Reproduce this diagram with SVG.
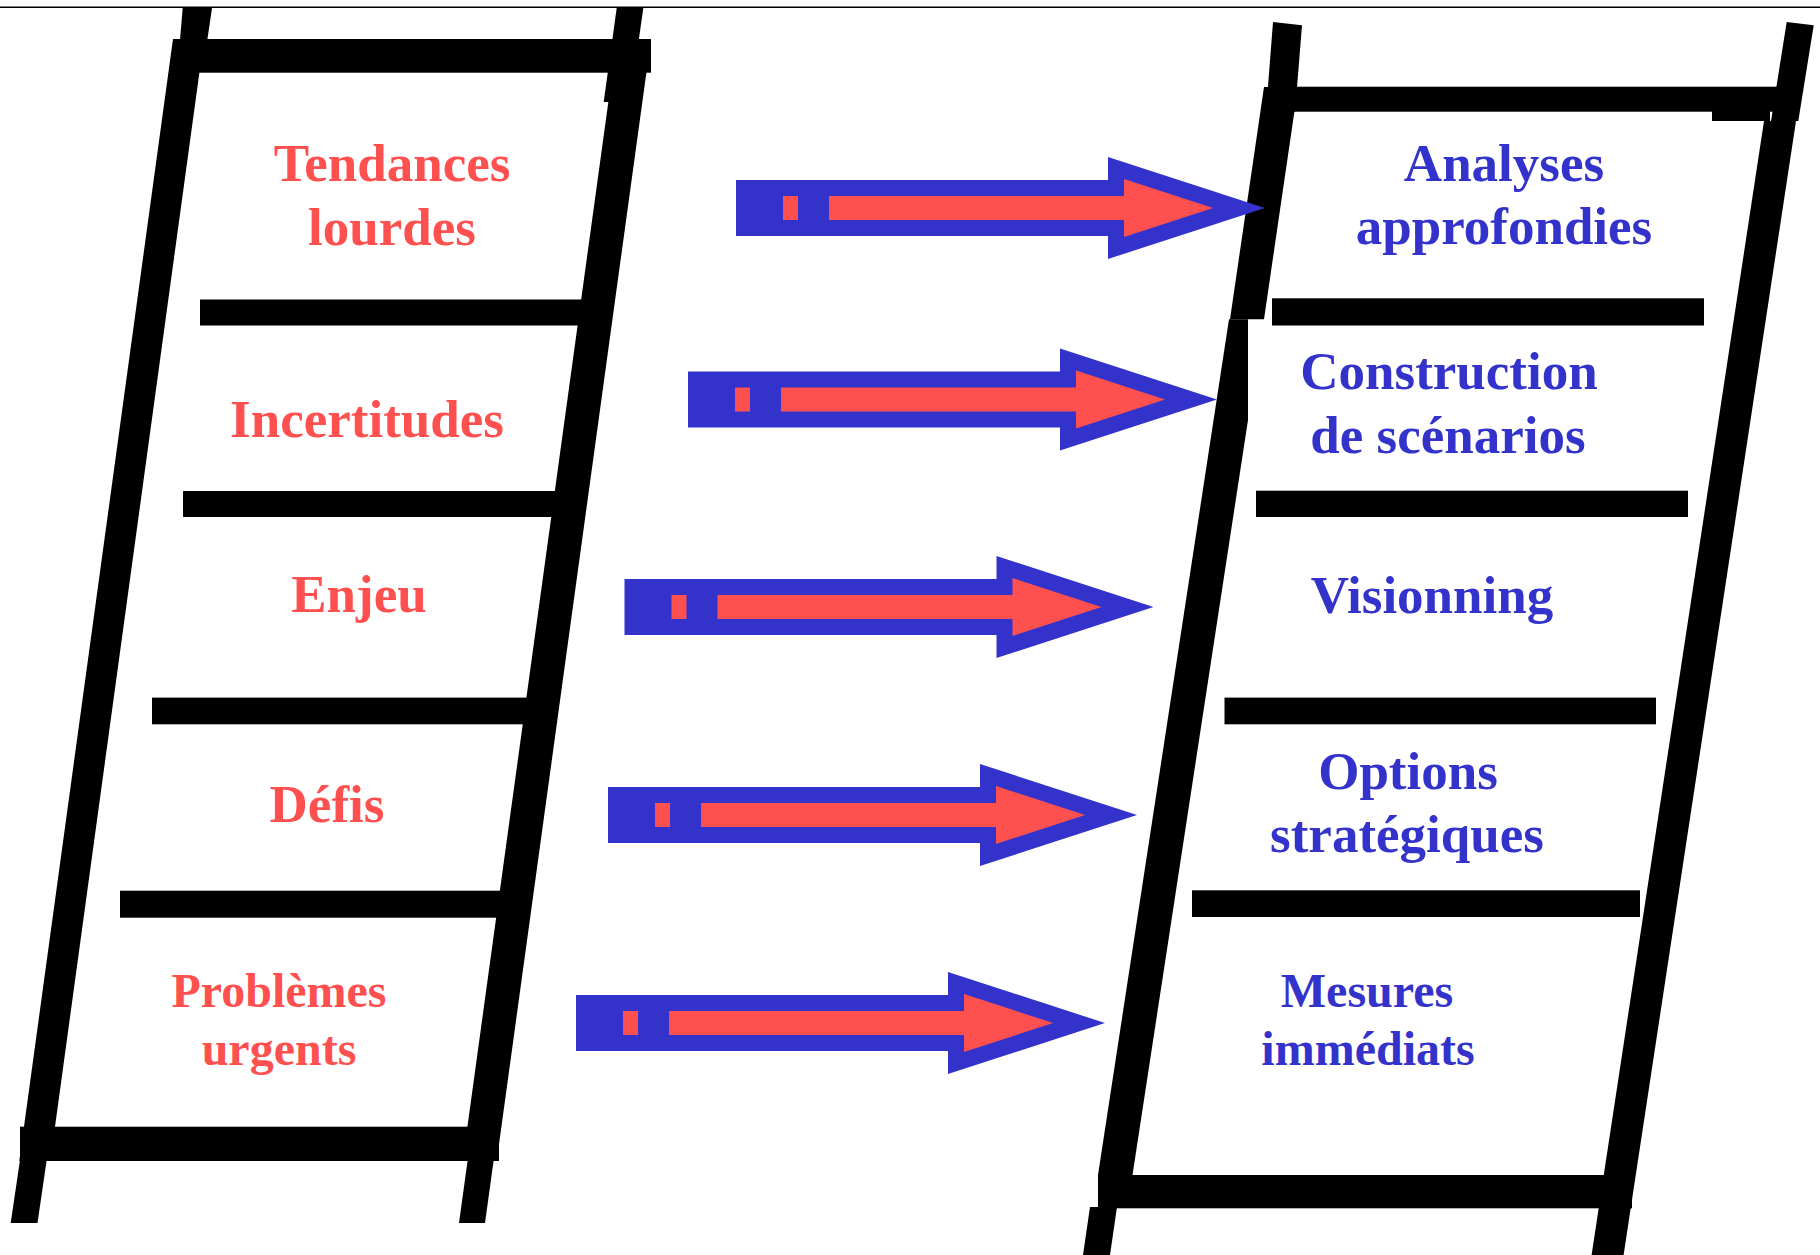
<svg xmlns="http://www.w3.org/2000/svg" xmlns:xlink="http://www.w3.org/1999/xlink" width="1820" height="1255" viewBox="0 0 1820 1255">
<style>
.bk{fill:#000}
.lbl{font-family:"Liberation Serif","Times New Roman",serif;font-weight:bold;text-anchor:middle;font-size:53px}
.sm{font-size:48px}
.red{fill:#FF5050}
.blue{fill:#3333CC}
</style>
<defs>
<g id="arr">
<rect x="0" y="-28" width="373" height="56" fill="#3333CC"/>
<polygon points="372,-51 529,0 372,51" fill="#3333CC"/>
<rect x="47" y="-12" width="15" height="24" fill="#FF5050"/>
<rect x="93" y="-12" width="296" height="24" fill="#FF5050"/>
<polygon points="388,-29 477,0 388,29" fill="#FF5050"/>
</g>
</defs>
<rect width="1820" height="1255" fill="#fff"/>
<line x1="0" y1="7.2" x2="1820" y2="7.2" stroke="#000" stroke-width="1.6"/>
<g id="ladder-left" class="bk">
<polygon points="182.7,8 212,8 207.3,40 180,40"/>
<polygon points="173,39 204,39 50.3,1161 19.3,1161"/>
<polygon points="20,1160 46.7,1160 37.5,1223 10.7,1223"/>
<polygon points="616.7,8 643.3,8 630,102 603.7,102"/>
<polygon points="617,39 651,39 496.7,1161 462.7,1161"/>
<polygon points="467.7,1160 493.7,1160 485,1223 459,1223"/>
<rect x="173" y="39" width="478" height="33.7"/>
<rect x="200" y="299.5" width="385" height="26"/>
<rect x="183" y="491" width="377" height="26"/>
<rect x="152" y="697.6" width="378" height="26.7"/>
<rect x="120" y="890.7" width="384" height="27"/>
<rect x="20" y="1126.7" width="479" height="34.3"/>
</g>
<g id="ladder-right" class="bk">
<polygon points="1273,22 1302,25.3 1295,112 1266,112"/>
<polygon points="1264,87 1298,87 1264,319.3 1230,319.3"/>
<polygon points="1229,319.3 1248,319.3 1248,420 1132.5,1175 1098,1175"/>
<polygon points="1090,1207 1117,1207 1110,1255 1083,1255"/>
<polygon points="1786.7,22 1813.7,25.3 1798.3,121 1771,121"/>
<polygon points="1764,121 1796,121 1623.6,1255 1591.6,1255"/>
<rect x="1293" y="86.7" width="487" height="25"/>
<rect x="1712" y="111" width="58" height="10"/>
<rect x="1272" y="298.3" width="432" height="27.2"/>
<rect x="1256" y="490.7" width="432" height="26.3"/>
<rect x="1224.5" y="697.6" width="431.5" height="26.7"/>
<rect x="1192" y="890.3" width="448" height="26.7"/>
<rect x="1098" y="1175" width="534" height="33.3"/>
</g>
<g id="connectors">
<use xlink:href="#arr" transform="translate(736,208)"/>
<use xlink:href="#arr" transform="translate(688,399.5)"/>
<use xlink:href="#arr" transform="translate(624.5,607)"/>
<use xlink:href="#arr" transform="translate(608,815)"/>
<use xlink:href="#arr" transform="translate(576,1023)"/>
</g>
<g id="node-tendances"><text class="lbl red" x="392" y="181">Tendances</text><text class="lbl red" x="392" y="245">lourdes</text></g>
<g id="node-incertitudes"><text class="lbl red" x="367" y="437">Incertitudes</text></g>
<g id="node-enjeu"><text class="lbl red" x="359" y="612">Enjeu</text></g>
<g id="node-defis"><text class="lbl red" x="327" y="822">Défis</text></g>
<g id="node-problemes"><text class="lbl sm red" x="279" y="1007">Problèmes</text><text class="lbl sm red" x="279" y="1065">urgents</text></g>
<g id="node-analyses"><text class="lbl blue" x="1504" y="181">Analyses</text><text class="lbl blue" x="1504" y="244">approfondies</text></g>
<g id="node-construction"><text class="lbl blue" x="1449" y="389">Construction</text><text class="lbl blue" x="1448" y="453">de scénarios</text></g>
<g id="node-visionning"><text class="lbl blue" x="1432" y="613">Visionning</text></g>
<g id="node-options"><text class="lbl blue" x="1408" y="789">Options</text><text class="lbl blue" x="1407" y="852">stratégiques</text></g>
<g id="node-mesures"><text class="lbl sm blue" x="1367" y="1007">Mesures</text><text class="lbl sm blue" x="1368" y="1065">immédiats</text></g>
</svg>
